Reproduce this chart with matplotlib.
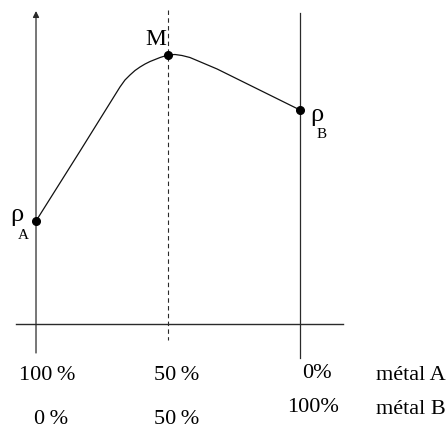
import matplotlib
matplotlib.use("Agg")
import matplotlib.pyplot as plt

# Data: composition (% of metal B) and density (arbitrary units)
pct_B = [0, 16.7, 31.8, 33.7, 35.6, 37.5, 39.4, 41.3, 43.2, 45.1, 47.0, 50,
         52.65, 55.3, 58.3, 61.0, 68.6, 100]
rho = [10.3, 17.3, 23.7, 24.4, 24.9, 25.35, 25.7, 26.0, 26.25, 26.45, 26.65, 26.9,
       26.95, 26.85, 26.65, 26.35, 25.5, 21.4]
key_x = [0, 50, 100]
key_rho = [10.3, 26.9, 21.4]
row_A = ["100\u2009%", "50\u2009%", "0%"]
row_B = ["0\u2009%", "50\u2009%", "100%"]
row_names = ["métal A", "métal B"]

FAM = ["Liberation Serif", "DejaVu Serif"]
LINE = "#2a2a2a"

fig = plt.figure(figsize=(4.46, 4.30), dpi=100)
ax = fig.add_axes([0, 0, 1, 1])
ax.set_xlim(-13.64, 155.3)
ax.set_ylim(-10.6, 32.4)
ax.axis("off")

# axes lines
ax.annotate("", xy=(0, 31.3), xytext=(0, -2.9),
            arrowprops=dict(arrowstyle="-|>", lw=0.9, color=LINE,
                            mutation_scale=9, shrinkA=0, shrinkB=0))
ax.plot([100, 100], [31.1, -3.4], color=LINE, lw=0.9)
ax.plot([50, 50], [31.4, -1.6], color=LINE, lw=0.8, ls=(0, (4, 3)))
ax.plot([-7.6, 116.3], [0, 0], color=LINE, lw=1.0)

# curve
ax.plot(pct_B, rho, color="#111111", lw=0.9)
ax.plot(key_x, key_rho, "o", color="black", ms=5.5, zorder=5)

# point labels
ax.text(-4.9, 10.25, "ρ", family=FAM, fontsize=19, ha="right", va="baseline")
ax.text(-7.0, 8.5, "A", family=FAM, fontsize=11, ha="left", va="baseline")
ax.text(45.3, 27.9, "M", family=FAM, fontsize=17, ha="center", va="baseline")
ax.text(103.8, 20.3, "ρ", family=FAM, fontsize=19, ha="left", va="baseline")
ax.text(106.4, 18.6, "B", family=FAM, fontsize=11, ha="left", va="baseline")

# bottom composition labels
xA = [4.36, 53.4, 106.25]
yA = [-5.2, -5.2, -5.0]
xB = [5.87, 53.4, 105.1]
yB = [-9.6, -9.6, -8.3]
for x, y, s in zip(xA, yA, row_A):
    ax.text(x, y, s, family=FAM, fontsize=16, ha="center", va="center")
for x, y, s in zip(xB, yB, row_B):
    ax.text(x, y, s, family=FAM, fontsize=16, ha="center", va="center")
ax.text(128.8, -5.15, row_names[0], family=FAM, fontsize=16, ha="left", va="center")
ax.text(128.8, -8.6, row_names[1], family=FAM, fontsize=16, ha="left", va="center")

fig.savefig("out.png", dpi=100)
